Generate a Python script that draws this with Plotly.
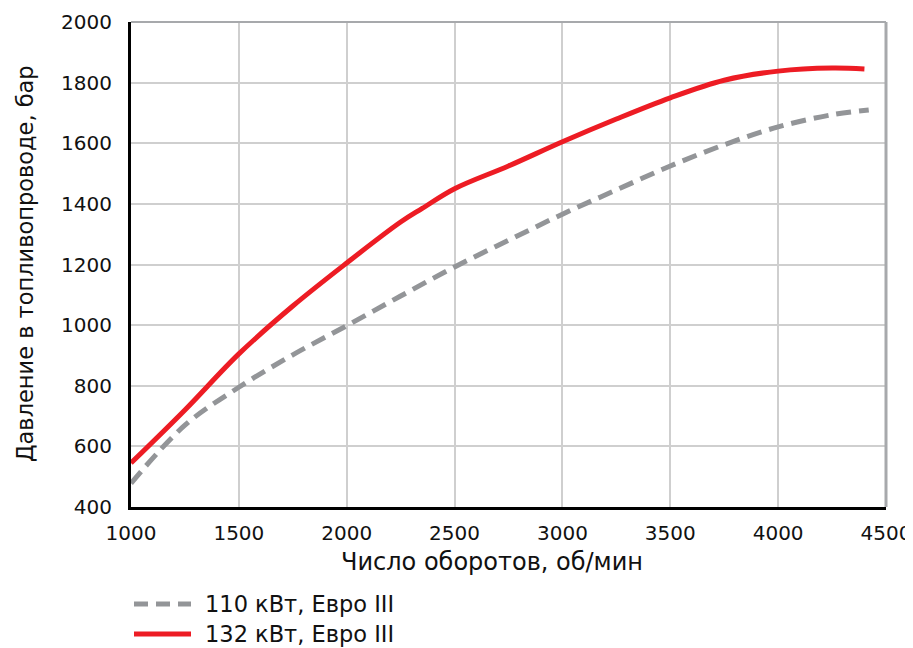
import plotly.graph_objects as go

rpm_red = [1000, 1250, 1500, 1750, 2000, 2250, 2350, 2500, 2750, 3000, 3250, 3500, 3750, 4000, 4250, 4400]
p_red = [545, 720, 905, 1063, 1205, 1340, 1385, 1450, 1525, 1605, 1680, 1750, 1808, 1838, 1848, 1845]

rpm_gray = [1000, 1250, 1500, 1750, 2000, 2250, 2500, 2750, 3000, 3250, 3500, 3750, 4000, 4250, 4420]
p_gray = [478, 670, 795, 902, 998, 1096, 1192, 1280, 1366, 1446, 1525, 1595, 1654, 1694, 1710]

name_gray = "110 кВт, Евро III"
name_red = "132 кВт, Евро III"
x_title = "Число оборотов, об/мин"
y_title = "Давление в топливопроводе, бар"
x_ticks = [1000, 1500, 2000, 2500, 3000, 3500, 4000, 4500]
y_ticks = [400, 600, 800, 1000, 1200, 1400, 1600, 1800, 2000]

GRAY = "#939598"
RED = "#ed1c24"
FONT = "DejaVu Sans, Arial, sans-serif"

# page has an 8px body margin; figure is sized to fit the 913x648 window
OFF = 8
W, H = 913 - OFF, 648 - OFF
l, r, t, b = 131 - OFF, 27, 22 - OFF, 141
pw, ph = W - l - r, H - t - b

fig = go.Figure()
fig.add_trace(go.Scatter(x=rpm_gray, y=p_gray, mode="lines", name=name_gray,
                         line=dict(color=GRAY, width=5, dash="15px,8px", shape="spline"),
                         showlegend=False))
fig.add_trace(go.Scatter(x=rpm_red, y=p_red, mode="lines", name=name_red,
                         line=dict(color=RED, width=5, shape="spline"),
                         showlegend=False))


def px(x):
    return (x - OFF - l) / pw


def py(y):
    return (H - b - (y - OFF)) / ph


# manual legend
for yy, col, dash, txt in [(604, GRAY, "14px,8px", name_gray), (634, RED, None, name_red)]:
    fig.add_shape(type="line", xref="paper", yref="paper",
                  x0=px(134), x1=px(191), y0=py(yy), y1=py(yy),
                  line=dict(color=col, width=5, dash=dash))
    fig.add_annotation(xref="paper", yref="paper", x=px(203), y=py(yy),
                       text=txt, showarrow=False, xanchor="left", yanchor="middle",
                       font=dict(size=22.5, color="#111", family=FONT))

# axis titles
fig.add_annotation(xref="paper", yref="paper", x=px(492), y=py(562), text=x_title,
                   showarrow=False, xanchor="center", yanchor="middle",
                   font=dict(size=24, color="#111", family=FONT))
fig.add_annotation(xref="paper", yref="paper", x=px(25), y=py(264), text=y_title,
                   showarrow=False, xanchor="center", yanchor="middle", textangle=-90,
                   font=dict(size=22.5, color="#111", family=FONT))

# frame: gray top and right
fig.add_shape(type="line", xref="paper", yref="paper", x0=0, x1=1, y0=1, y1=1,
              line=dict(color="#a7a9ac", width=2))
fig.add_shape(type="line", xref="paper", yref="paper", x0=1, x1=1, y0=0, y1=1,
              line=dict(color="#a7a9ac", width=3))

fig.update_layout(
    width=W, height=H,
    margin=dict(l=l, r=r, t=t, b=b, autoexpand=False),
    paper_bgcolor="white", plot_bgcolor="white",
    font=dict(family=FONT, color="#111", size=20),
    xaxis=dict(range=[1000, 4500], tickvals=x_ticks, ticks="", showgrid=True,
               gridcolor="#cfcfcf", gridwidth=1.5, showline=True, linecolor="black",
               linewidth=3, zeroline=False, ticklabelstandoff=6, automargin=False,
               tickfont=dict(size=20)),
    yaxis=dict(range=[400, 2000], tickvals=y_ticks, ticks="", showgrid=True,
               gridcolor="#cfcfcf", gridwidth=1.5, showline=True, linecolor="black",
               linewidth=3, zeroline=False, ticklabelstandoff=12, automargin=False,
               tickfont=dict(size=20)),
)

fig.write_html("out.html")
